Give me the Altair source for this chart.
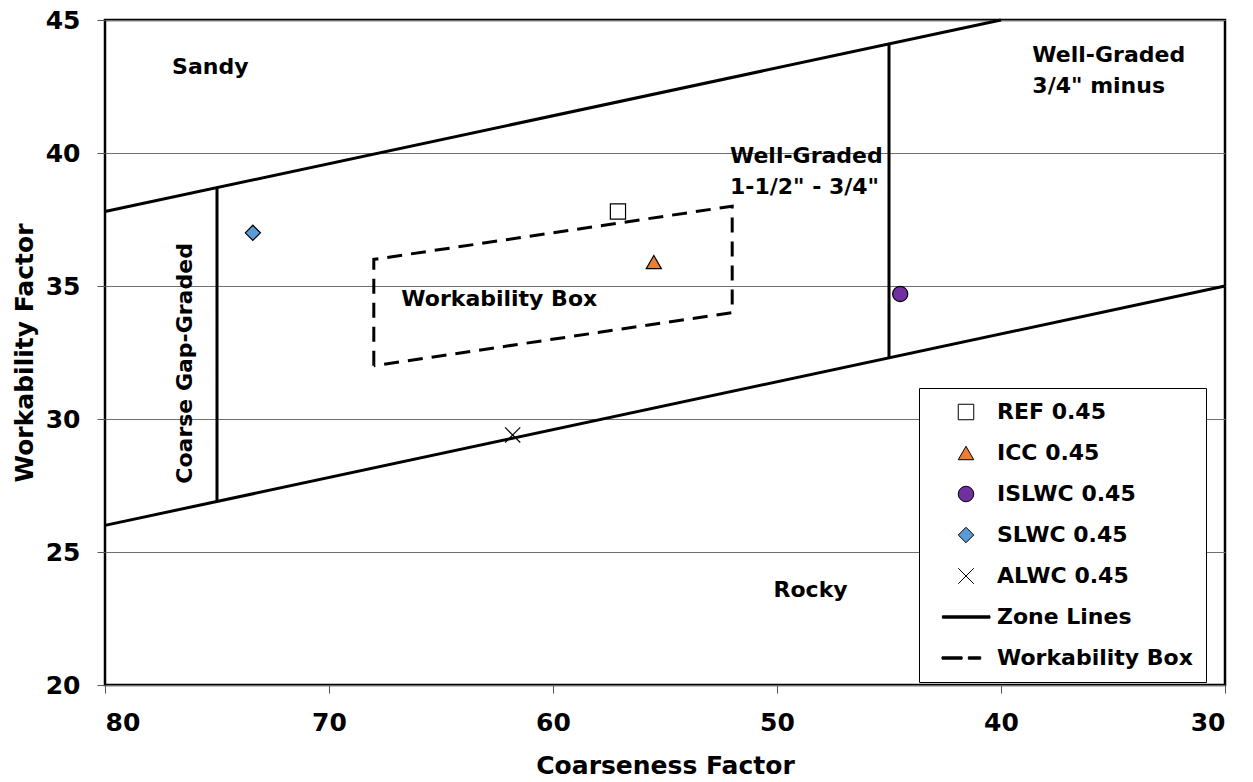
import altair as alt
import pandas as pd

FONT = "DejaVu Sans"

# Concrete mixes plotted on the coarseness / workability chart
series = ["REF 0.45", "ICC 0.45", "ISLWC 0.45", "SLWC 0.45", "ALWC 0.45"]
coarseness = [57.1, 55.5, 44.5, 73.4, 61.8]
workability = [37.8, 35.9, 34.7, 37.0, 29.4]

# Legend entries (markers plus the two line styles)
legend_names = series + ["Zone Lines", "Workability Box"]
X_PATH = "M -1 -1 L 1 1 M -1 1 L 1 -1"
LINE_PATH = "M -3.05 -0.15 L 3.1 -0.15 L 3.1 0.15 L -3.05 0.15 Z"
DASH_PATH = ("M -3.1 -0.15 L -0.5 -0.15 L -0.5 0.15 L -3.1 0.15 Z "
             "M 0.3 -0.15 L 1.9 -0.15 L 1.9 0.15 L 0.3 0.15 Z")
shapes = ["square", "triangle-up", "circle", "diamond", X_PATH, LINE_PATH, DASH_PATH]
fills = ["white", "#ED7D31", "#7030A0", "#5B9BD5", "transparent", "black", "black"]
strokes = ["black"] * len(legend_names)

# Zone boundary segments
zone_id = ["upper", "upper", "lower", "lower", "gap", "gap", "graded", "graded"]
zone_cf = [80, 40, 80, 30, 75, 75, 45, 45]
zone_wf = [37.8, 45.0, 26.0, 35.0, 26.9, 38.7, 32.3, 44.1]

# Workability box corners (closed)
box_cf = [68, 68, 52, 52, 68]
box_wf = [32, 36, 38, 34, 32]

# Region labels
center_text = ["Sandy", "Workability Box", "Rocky"]
center_cf = [75.3, 62.4, 48.5]
center_wf = [43.23, 34.5, 23.57]

left_text = ["Well-Graded\n1-1/2\" - 3/4\"", "Well-Graded\n3/4\" minus"]
left_cf = [52.1, 38.6]
left_wf = [39.9, 43.67]

vert_text = ["Coarse Gap-Graded"]
vert_cf = [76.45]
vert_wf = [32.09]

pts = pd.DataFrame({"series": series, "cf": coarseness, "wf": workability})
zones = pd.DataFrame({"seg": zone_id, "cf": zone_cf, "wf": zone_wf,
                      "ord": list(range(len(zone_id)))})
box = pd.DataFrame({"cf": box_cf, "wf": box_wf, "ord": list(range(len(box_cf)))})
ctext = pd.DataFrame({"t": center_text, "cf": center_cf, "wf": center_wf})
ltext = pd.DataFrame({"t": left_text, "cf": left_cf, "wf": left_wf})
vtext = pd.DataFrame({"t": vert_text, "cf": vert_cf, "wf": vert_wf})

x_scale = alt.Scale(domain=[30, 80], reverse=True, nice=False)
y_scale = alt.Scale(domain=[20, 45], nice=False)

x_enc = alt.X("cf:Q", scale=x_scale, title="Coarseness Factor",
              axis=alt.Axis(values=[80, 70, 60, 50, 40, 30], grid=False, domain=False,
                            tickSize=8, tickColor="#555", labelPadding=17,
                            titlePadding=18, format="d"))
y_enc = alt.Y("wf:Q", scale=y_scale, title="Workability Factor",
              axis=alt.Axis(values=[20, 25, 30, 35, 40, 45], grid=True, domain=False,
                            gridColor="#707070", gridWidth=1,
                            tickSize=8, tickColor="#555", labelPadding=17,
                            titlePadding=8, format="d"))

legend = alt.Legend(
    title=None, orient="none", legendX=814, legendY=368,
    padding=13, strokeColor="black", fillColor="white",
    symbolSize=240, symbolStrokeWidth=1, symbolStrokeColor="black",
    symbolOffset=23, labelOffset=20, rowPadding=19, labelLimit=400,
    labelFont=FONT, labelFontSize=22, labelFontWeight="bold", labelColor="black",
)

zone_layer = alt.Chart(zones).mark_line(color="black", strokeWidth=3).encode(
    x=x_enc, y=y_enc, detail="seg:N", order="ord:Q")

box_layer = alt.Chart(box).mark_line(color="black", strokeWidth=3,
                                     strokeDash=[15, 9]).encode(
    x="cf:Q", y="wf:Q", order="ord:Q")

point_layer = alt.Chart(pts).mark_point(
    filled=True, size=230, strokeWidth=1.2, opacity=1
).encode(
    x="cf:Q", y="wf:Q",
    shape=alt.Shape("series:N", scale=alt.Scale(domain=legend_names, range=shapes),
                    legend=legend),
    fill=alt.Fill("series:N", scale=alt.Scale(domain=legend_names, range=fills),
                  legend=legend),
    stroke=alt.Stroke("series:N", scale=alt.Scale(domain=legend_names, range=strokes),
                      legend=legend),
)

text_style = dict(font=FONT, fontSize=22, fontWeight="bold", color="black")

center_layer = alt.Chart(ctext).mark_text(align="center", baseline="middle",
                                          **text_style).encode(
    x="cf:Q", y="wf:Q", text="t:N")

left_layer = alt.Chart(ltext).mark_text(align="left", baseline="middle",
                                        lineBreak="\n", lineHeight=31,
                                        **text_style).encode(
    x="cf:Q", y="wf:Q", text="t:N")

vert_layer = alt.Chart(vtext).mark_text(align="center", baseline="middle",
                                        angle=270, **text_style).encode(
    x="cf:Q", y="wf:Q", text="t:N")

chart = alt.layer(
    zone_layer, box_layer, center_layer, left_layer, vert_layer, point_layer
).properties(
    width=1120, height=665,
    autosize=alt.AutoSizeParams(type="none"),
    padding={"left": 105, "top": 20, "right": 28, "bottom": 97},
    background="white",
).configure_view(
    stroke="black", strokeWidth=2.5
).configure_axis(
    labelFont=FONT, labelFontSize=25, labelFontWeight="bold", labelColor="black",
    titleFont=FONT, titleFontSize=25, titleFontWeight="bold", titleColor="black",
)

chart.save("out.html", embed_options={"renderer": "svg", "actions": False})
